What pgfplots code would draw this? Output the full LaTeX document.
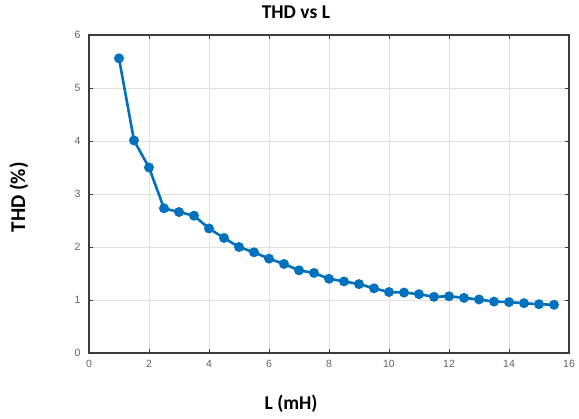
\documentclass[border=0pt]{standalone}
\usepackage{fontspec}
\setmainfont{Carlito}
\newfontfamily\tickfont{Liberation Sans}
\usepackage{pgfplots}
\pgfplotsset{compat=1.18}
\definecolor{mblue}{RGB}{0,114,189}
\definecolor{gridgray}{RGB}{225,225,225}
\definecolor{axgray}{RGB}{60,60,60}

\begin{document}
\begin{tikzpicture}
\begin{axis}[
    scale only axis,
    width=480pt, height=318pt,
    xmin=0, xmax=16, ymin=0, ymax=6,
    xtick={0,2,...,16}, ytick={0,1,...,6},
    tick align=inside, major tick length=4pt,
    tick style={axgray, line width=0.8pt},
    axis line style={axgray, line width=1.4pt},
    grid=major, grid style={gridgray, line width=0.8pt},
    tick label style={font=\tickfont\fontsize{10.5}{12}\selectfont, text=black!62},
    xticklabel style={yshift=-4pt},
    yticklabel style={xshift=-5pt},
    /pgf/number format/assume math mode=true,
    title={\bfseries THD vs L},
    title style={font=\fontsize{19.5}{22}\selectfont, at={(axis description cs:0.431,1.052)}, anchor=center},
    xlabel={\bfseries L (mH)},
    xlabel style={font=\fontsize{19.5}{22}\selectfont, at={(axis description cs:0.421,-0.1604)}, anchor=center},
    ylabel={\bfseries THD (\%)},
    ylabel style={font=\fontsize{21}{23}\selectfont, at={(axis description cs:-0.1458,0.49)}, anchor=center},
]
\addplot[mblue, line width=2.6pt, mark=*, mark size=3.6pt] coordinates {
  (1,5.56) (1.5,4.01) (2,3.50) (2.5,2.73) (3,2.66) (3.5,2.59)
  (4,2.35) (4.5,2.17) (5,2.00) (5.5,1.90) (6,1.78) (6.5,1.68)
  (7,1.56) (7.5,1.51) (8,1.40) (8.5,1.35) (9,1.30) (9.5,1.22)
  (10,1.15) (10.5,1.14) (11,1.11) (11.5,1.06) (12,1.07) (12.5,1.04)
  (13,1.01) (13.5,0.97) (14,0.96) (14.5,0.94) (15,0.92) (15.5,0.91)
};
\end{axis}
\pgfresetboundingbox
\path[use as bounding box] ([shift={(-89pt,-66pt)}]current axis.south west) rectangle ++(579pt,419pt);
\end{tikzpicture}
\end{document}
